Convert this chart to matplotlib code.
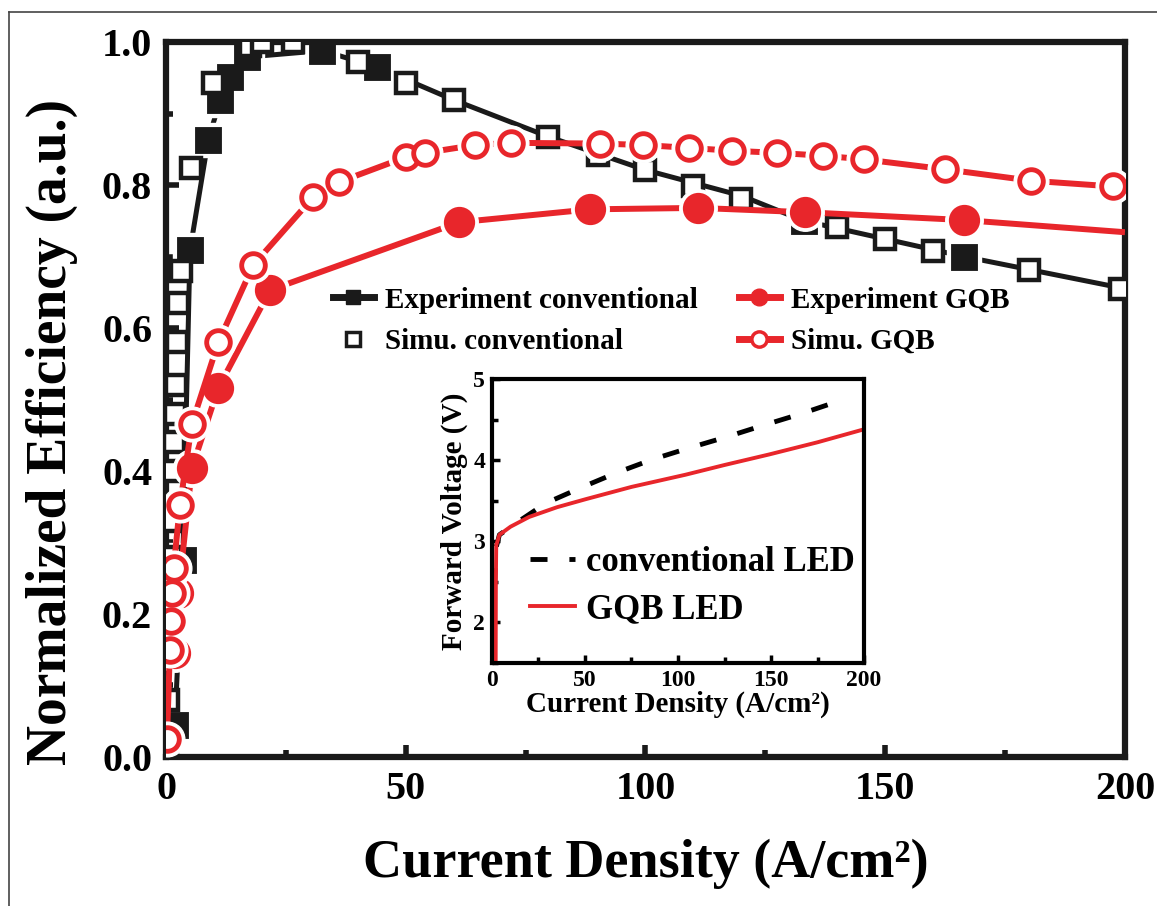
import matplotlib
matplotlib.use("Agg")
import matplotlib.pyplot as plt
from matplotlib.lines import Line2D
from matplotlib.ticker import MultipleLocator, FormatStrFormatter

plt.rcParams['font.family'] = ['Liberation Serif', 'DejaVu Serif']
plt.rcParams['font.weight'] = 'bold'

# Experiment, conventional LED (line through all points, markers only on measured ones)
exp_conv_x = [1.8, 3.5, 5.0, 8.8, 11.3, 13.4, 16.9, 32.6, 44.0, 60.0, 80.0, 100.0, 120.0, 133.0, 166.4, 200.0]
exp_conv_y = [0.045, 0.275, 0.709, 0.863, 0.919, 0.951, 0.979, 0.988, 0.965, 0.919, 0.867, 0.821, 0.785, 0.750, 0.700, 0.655]
exp_conv_mark = [0, 1, 2, 3, 4, 5, 6, 7, 8, 13, 14]

# Simulation, conventional LED
sim_conv_x = [0.3, 0.5, 0.7, 0.9, 1.1, 1.3, 1.5, 1.7, 1.9, 2.1, 2.3, 2.5, 3.1, 5.2, 9.8, 17.5, 20.0, 26.5,
              40.0, 50.0, 60.0, 79.7, 90.0, 100.0, 110.0, 120.0, 140.0, 150.0, 160.0, 180.0, 199.0]
sim_conv_y = [0.02, 0.08, 0.15, 0.22, 0.28, 0.33, 0.40, 0.44, 0.48, 0.52, 0.58, 0.635, 0.68, 0.824, 0.943, 0.995,
              1.0, 1.0, 0.972, 0.943, 0.919, 0.867, 0.842, 0.821, 0.799, 0.781, 0.741, 0.725, 0.708, 0.681, 0.655]

# Experiment, GQB LED
exp_gqb_x = [1.9, 2.6, 5.4, 10.9, 21.7, 61.2, 88.5, 111.0, 133.2, 166.4, 200.0]
exp_gqb_y = [0.145, 0.23, 0.404, 0.516, 0.653, 0.748, 0.766, 0.768, 0.762, 0.751, 0.734]
exp_gqb_mark = [0, 1, 2, 3, 4, 5, 6, 7, 8, 9]

# Simulation, GQB LED
sim_gqb_x = [0.2, 0.8, 1.0, 1.3, 1.6, 2.9, 5.4, 10.9, 18.2, 30.7, 36.0, 50.0, 54.0, 64.5, 72.0,
             90.5, 99.5, 109.0, 118.0, 127.5, 137.0, 145.5, 162.5, 180.5, 197.5]
sim_gqb_y = [0.025, 0.15, 0.19, 0.23, 0.265, 0.352, 0.466, 0.580, 0.688, 0.783, 0.804, 0.839, 0.845, 0.856, 0.859,
             0.858, 0.856, 0.852, 0.848, 0.845, 0.841, 0.836, 0.822, 0.806, 0.798]

# Inset: forward voltage vs current density
iv_conv_x = [0.0, 1.5, 2.0, 4.0, 14.0, 29.0, 48.8, 67.6, 86.4, 106.0, 126.7, 146.0, 166.0, 188.0]
iv_conv_v = [1.5, 2.5, 2.9, 3.08, 3.24, 3.47, 3.67, 3.85, 4.01, 4.15, 4.29, 4.43, 4.57, 4.74]
iv_gqb_x = [2.0, 2.1, 2.3, 4.0, 10.0, 20.0, 35.0, 50.6, 75.0, 104.0, 125.0, 149.0, 175.0, 200.0]
iv_gqb_v = [1.5, 2.5, 2.95, 3.08, 3.18, 3.30, 3.42, 3.52, 3.67, 3.82, 3.94, 4.07, 4.22, 4.38]

RED = '#e8262b'
BLK = '#1a1a1a'

fig = plt.figure(figsize=(11.57, 9.06), dpi=100)
ax = fig.add_axes([0.1435, 0.1645, 0.8288, 0.7891])

# thin frame of the figure
fig.add_artist(Line2D([0.0078, 1.0], [0.9868, 0.9868], color='#444444', lw=1.2))
fig.add_artist(Line2D([0.0078, 0.0078], [0.0, 0.9868], color='#444444', lw=1.2))


def marked_line(x, y, idx, color, marker, ms, face, z, lw):
    ax.plot(x, y, color=color, lw=lw, zorder=z, solid_capstyle='butt')
    mx = [x[i] for i in idx]
    my = [y[i] for i in idx]
    ax.plot(mx, my, ls='none', marker=marker, ms=ms + 8, color='white', mec='white', zorder=z + 0.1)
    ax.plot(mx, my, ls='none', marker=marker, ms=ms, mfc=face, mec=color, mew=3.5, zorder=z + 0.2)


marked_line(exp_conv_x, exp_conv_y, exp_conv_mark, BLK, 's', 16, BLK, 2, 3.6)
ax.plot(sim_conv_x, sim_conv_y, ls='none', marker='s', ms=14, mfc='white', mec=BLK, mew=3.2, zorder=3)
marked_line(exp_gqb_x, exp_gqb_y, exp_gqb_mark, RED, 'o', 19, RED, 4, 4.3)
marked_line(sim_gqb_x, sim_gqb_y, list(range(len(sim_gqb_x))), RED, 'o', 17, 'white', 5, 4.3)

ax.set_xlim(0, 200)
ax.set_ylim(0, 1.0)
ax.xaxis.set_major_locator(MultipleLocator(50))
ax.xaxis.set_minor_locator(MultipleLocator(25))
ax.yaxis.set_major_locator(MultipleLocator(0.2))
ax.yaxis.set_minor_locator(MultipleLocator(0.1))
ax.yaxis.set_major_formatter(FormatStrFormatter('%.1f'))
ax.tick_params(which='both', direction='in', top=False, right=False, labelsize=29, width=4, color=BLK, pad=10)
ax.tick_params(which='major', length=9)
ax.tick_params(which='minor', length=5)
for s in ax.spines.values():
    s.set_linewidth(4.5)
    s.set_color(BLK)
for lab in ax.get_xticklabels() + ax.get_yticklabels():
    lab.set_fontweight('bold')

ax.set_xlabel('Current Density (A/cm²)', fontsize=39, fontweight='bold', labelpad=22)
ax.set_ylabel('Normalized Efficiency (a.u.)', fontsize=40, fontweight='bold')
ax.yaxis.set_label_coords(-0.092, 0.455)

# legend for the main plot
handles = [
    Line2D([], [], color=BLK, lw=5, marker='s', ms=10, mfc=BLK, mec=BLK),
    Line2D([], [], ls='none', marker='s', ms=10, mfc='white', mec=BLK, mew=2.5),
    Line2D([], [], color=RED, lw=5, marker='o', ms=12, mfc=RED, mec=RED),
    Line2D([], [], color=RED, lw=5, marker='o', ms=11, mfc='white', mec=RED, mew=2.5),
]
labels = ['Experiment conventional', 'Simu. conventional', 'Experiment GQB', 'Simu. GQB']
ax.legend(handles, labels, ncol=2, loc='upper left', bbox_to_anchor=(0.174, 0.658), frameon=False,
          prop={'size': 21, 'weight': 'bold'}, handlelength=1.4, handletextpad=0.4,
          columnspacing=1.4, labelspacing=0.5, borderpad=0, borderaxespad=0)

# inset
ins = fig.add_axes([0.4252, 0.2682, 0.3216, 0.3135])
ins.plot(iv_conv_x, iv_conv_v, color='black', lw=3.5, ls=(0, (3.5, 4.5)), label='conventional LED')
ins.plot(iv_gqb_x, iv_gqb_v, color=RED, lw=2.8, label='GQB LED')
ins.set_xlim(0, 200)
ins.set_ylim(1.5, 5)
ins.xaxis.set_major_locator(MultipleLocator(50))
ins.xaxis.set_minor_locator(MultipleLocator(25))
ins.yaxis.set_major_locator(MultipleLocator(1))
ins.yaxis.set_minor_locator(MultipleLocator(0.5))
ins.tick_params(which='both', direction='in', top=False, right=False, labelsize=17, width=2.5, pad=5)
ins.tick_params(which='major', length=6)
ins.tick_params(which='minor', length=4)
for s in ins.spines.values():
    s.set_linewidth(3)
for lab in ins.get_xticklabels() + ins.get_yticklabels():
    lab.set_fontweight('bold')
ins.set_xlabel('Current Density (A/cm²)', fontsize=21, fontweight='bold', labelpad=0)
ins.set_ylabel('Forward Voltage (V)', fontsize=21, fontweight='bold', labelpad=4)
ins.legend(loc='lower right', bbox_to_anchor=(0.975, 0.13), frameon=False,
           prop={'size': 25, 'weight': 'bold'}, handlelength=1.3, handletextpad=0.3,
           labelspacing=0.4, borderpad=0, borderaxespad=0)

fig.savefig('out.png', dpi=100)
